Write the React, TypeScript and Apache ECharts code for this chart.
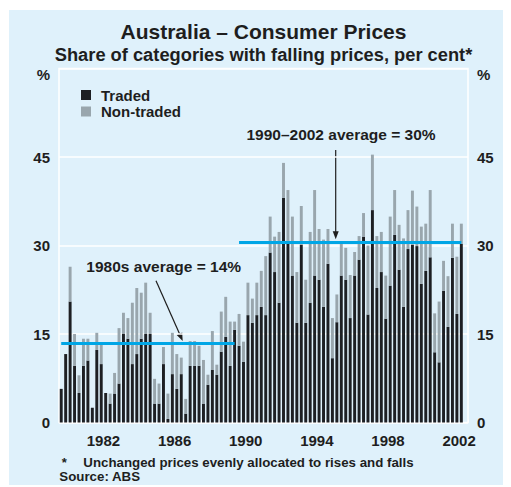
import React, { useEffect, useRef } from "react";
import * as echarts from "echarts";

// Quarterly categories 1980 Q1 – 2002 Q4 (last quarter has no data)
const years: number[] = [];
for (let y = 1980; y <= 2002; y++) years.push(y);
const quarters: string[] = [];
years.forEach((y) => [1, 2, 3, 4].forEach((q) => quarters.push(`${y} Q${q}`)));

// Share of categories with falling prices, per cent
const traded = [
  5.7, 11.6, 20.5, 9.6, 5.0, 9.6, 10.5, 2.5, 12.3, 9.9, 5.0, 3.2, 4.9, 6.6, 15.0, 14.2,
  9.9, 11.6, 14.2, 15.0, 15.0, 3.2, 3.2, 9.9, 0.6, 8.2, 5.7, 8.2, 1.5, 9.6, 9.6, 9.6,
  3.2, 6.4, 8.9, 8.1, 12.0, 14.5, 9.6, 15.7, 13.0, 10.3, 18.2, 16.9, 18.2, 19.6, 18.2, 28.8,
  25.5, 20.3, 38.1, 30.8, 24.9, 16.9, 30.1, 16.9, 20.3, 24.9, 24.2, 19.6, 26.9, 10.9, 17.0, 24.9,
  24.2, 17.7, 24.9, 27.6, 31.5, 18.3, 36.0, 22.8, 25.5, 17.6, 23.2, 31.8, 25.9, 19.6, 29.4, 30.1,
  29.9, 23.5, 25.7, 28.0, 11.9, 10.2, 22.3, 16.2, 27.9, 18.4, 30.3,
];
const nonTraded = [
  0, 0, 5.9, 5.4, 3.0, 4.6, 3.7, 0, 2.9, 3.3, 0, 1.7, 3.5, 9.4, 3.6, 3.5,
  10.4, 11.2, 7.8, 8.7, 3.6, 4.2, 3.4, 2.9, 4.3, 7.0, 5.9, 2.8, 2.5, 4.2, 4.2, 3.4,
  7.4, 1.7, 6.6, 1.7, 6.8, 6.8, 7.5, 1.4, 5.4, 3.4, 5.5, 4.1, 5.5, 6.1, 10.0, 6.1,
  6.0, 12.0, 5.9, 8.6, 10.0, 8.6, 6.6, 7.3, 12.0, 14.5, 8.6, 11.4, 5.9, 6.8, 4.7, 5.4,
  5.4, 7.3, 4.0, 4.0, 4.0, 11.7, 9.4, 8.8, 6.8, 7.3, 11.7, 7.6, 7.6, 11.6, 6.6, 9.2,
  6.7, 9.7, 8.0, 11.4, 6.6, 10.3, 5.1, 8.6, 5.8, 9.7, 3.4,
];

// Period averages (drawn level), start and end quarters
const avgValues = [13.5, 30.5];
const avgFrom = ["1980 Q1", "1990 Q1"];
const avgTo = ["1989 Q4", "2002 Q3"];
const avgLabels = ["1980s average = 14%", "1990–2002 average = 30%"];

const yTicks = [0, 15, 30, 45, 60];

const FONT = '"Liberation Sans", Arial, Helvetica, sans-serif';
const TXT = "#1e1e1e";
const BG = "#dff1fb";

export default function App() {
  const ref = useRef<HTMLDivElement>(null);
  useEffect(() => {
    if (!ref.current) return;
    const chart = echarts.init(ref.current, null, { renderer: "svg" });
    const yLabel = {
      color: TXT,
      fontFamily: FONT,
      fontWeight: "bold",
      fontSize: 15,
      formatter: (v: number) => (v === yTicks[yTicks.length - 1] ? "{p|%}" : String(v)),
      rich: {
        p: { padding: [12, 0, 0, 0], color: TXT, fontFamily: FONT, fontWeight: "bold", fontSize: 15 },
      },
    };
    const option: any = {
      animation: false,
      backgroundColor: BG,
      title: [
        {
          text: "Australia – Consumer Prices",
          left: 254.5,
          top: 10.5,
          textAlign: "center",
          padding: 0,
          textStyle: { fontFamily: FONT, fontWeight: "bold", fontSize: 21, color: TXT },
        },
        {
          text: "Share of categories with falling prices, per cent*",
          left: 254.5,
          top: 35,
          textAlign: "center",
          padding: 0,
          textStyle: { fontFamily: FONT, fontWeight: "bold", fontSize: 18.3, color: TXT },
        },
      ],
      legend: {
        data: ["Traded", "Non-traded"],
        orient: "vertical",
        left: 72,
        top: 77.5,
        padding: 0,
        itemGap: 1.5,
        itemWidth: 10,
        itemHeight: 10,
        icon: "rect",
        textStyle: { fontFamily: FONT, fontWeight: "bold", fontSize: 15, color: TXT, padding: [0, 0, 0, 5] },
      },
      grid: {
        left: 50,
        top: 58.5,
        width: 409,
        height: 354,
        show: true,
        backgroundColor: BG,
        borderColor: "#ffffff",
        borderWidth: 1.5,
      },
      xAxis: [
        {
          type: "category",
          data: quarters,
          boundaryGap: true,
          axisLabel: { show: false },
          axisTick: { show: false },
          axisLine: { show: false },
          splitLine: { show: false },
        },
        {
          type: "value",
          position: "bottom",
          min: years[0],
          max: years[years.length - 1] + 1,
          interval: 0.5,
          axisLine: { show: false },
          axisTick: { show: false },
          splitLine: { show: false },
          axisLabel: {
            margin: 10,
            color: TXT,
            fontFamily: FONT,
            fontWeight: "bold",
            fontSize: 15,
            formatter: (v: number) => (v % 4 === 2.5 ? String(v - 0.5) : ""),
          },
        },
        {
          type: "value",
          position: "bottom",
          min: years[0],
          max: years[years.length - 1] + 1,
          interval: 1,
          axisLine: { show: false },
          axisLabel: { show: false },
          splitLine: { show: false },
          axisTick: { show: true, inside: true, length: 3, lineStyle: { color: "#ffffff", width: 1 } },
        },
      ],
      yAxis: [
        {
          type: "value",
          min: 0,
          max: 60,
          interval: 15,
          position: "left",
          axisLine: { show: false },
          axisTick: { show: false },
          splitLine: { show: true, lineStyle: { color: "#ffffff", width: 1.5 } },
          axisLabel: { ...yLabel, margin: 9 },
        },
        {
          type: "value",
          min: 0,
          max: 60,
          interval: 15,
          position: "right",
          axisLine: { show: false },
          axisTick: { show: false },
          splitLine: { show: false },
          axisLabel: { ...yLabel, margin: 9 },
        },
      ],
      series: [
        {
          name: "Traded",
          type: "bar",
          stack: "share",
          data: traded,
          barWidth: "66%",
          itemStyle: { color: "#1d1f23" },
        },
        {
          name: "Non-traded",
          type: "bar",
          stack: "share",
          data: nonTraded,
          barWidth: "66%",
          itemStyle: { color: "#99a6ad" },
          markLine: {
            silent: true,
            symbol: ["none", "none"],
            label: { show: false },
            lineStyle: { color: "#00a6e6", width: 3, type: "solid" },
            data: avgValues.map((v, i) => [
              { coord: [avgFrom[i], v] },
              { coord: [avgTo[i], v] },
            ]),
          },
        },
      ],
      graphic: [
        {
          type: "text",
          x: 154.7,
          y: 256.7,
          style: {
            text: avgLabels[0],
            font: `bold 15.5px ${FONT}`,
            fill: TXT,
            align: "center",
            verticalAlign: "middle",
            textAlign: "center",
            textVerticalAlign: "middle",
          },
        },
        {
          type: "text",
          x: 332,
          y: 124.5,
          style: {
            text: avgLabels[1],
            font: `bold 15.5px ${FONT}`,
            fill: TXT,
            align: "center",
            verticalAlign: "middle",
            textAlign: "center",
            textVerticalAlign: "middle",
          },
        },
        {
          type: "line",
          shape: { x1: 147, y1: 270.7, x2: 170.5, y2: 323.7 },
          style: { stroke: TXT, lineWidth: 1.2 },
        },
        {
          type: "polygon",
          shape: { points: [[167.7, 324.9], [173.2, 322.5], [173.7, 331]] },
          style: { fill: TXT },
        },
        {
          type: "line",
          shape: { x1: 326.7, y1: 140, x2: 326.7, y2: 222 },
          style: { stroke: TXT, lineWidth: 1.2 },
        },
        {
          type: "polygon",
          shape: { points: [[323.7, 221.3], [329.7, 221.3], [326.7, 229.3]] },
          style: { fill: TXT },
        },
        {
          type: "text",
          x: 52.7,
          y: 452.7,
          style: { text: "*", font: `bold 13px ${FONT}`, fill: TXT, verticalAlign: "middle", textVerticalAlign: "middle" },
        },
        {
          type: "text",
          x: 74.3,
          y: 452.7,
          style: {
            text: "Unchanged prices evenly allocated to rises and falls",
            font: `bold 13.3px ${FONT}`,
            fill: TXT,
            verticalAlign: "middle",
            textVerticalAlign: "middle",
          },
        },
        {
          type: "text",
          x: 50.3,
          y: 466.7,
          style: {
            text: "Source: ABS",
            font: `bold 13.3px ${FONT}`,
            fill: TXT,
            verticalAlign: "middle",
            textVerticalAlign: "middle",
          },
        },
      ],
    };
    chart.setOption(option);
    return () => chart.dispose();
  }, []);
  return (
    <div
      ref={ref}
      style={{ width: 502, height: 475, marginLeft: 1, marginTop: 2 }}
    />
  );
}
